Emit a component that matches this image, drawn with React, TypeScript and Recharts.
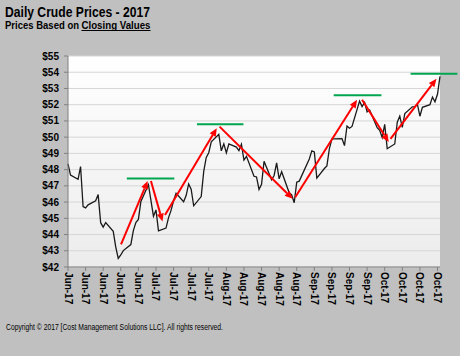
import React from 'react';
import { CartesianGrid, Line, LineChart, ReferenceLine, XAxis, YAxis } from 'recharts';

const FONT = 'Arial, "Liberation Sans", sans-serif';

// trading days (MM-DD, 2017) and closing prices
const tradingDates = [
  '06-01', '06-02', '06-05', '06-06', '06-07', '06-08', '06-09', '06-12', '06-13', '06-14', '06-15',
  '06-16', '06-19', '06-20', '06-21', '06-22', '06-23', '06-26', '06-27', '06-28', '06-29', '06-30',
  '07-03', '07-05', '07-06', '07-07', '07-10', '07-11', '07-12', '07-13', '07-14', '07-17', '07-18',
  '07-19', '07-20', '07-21', '07-24', '07-25', '07-26', '07-27', '07-28', '07-31',
  '08-01', '08-02', '08-03', '08-04', '08-07', '08-08', '08-09', '08-10', '08-11', '08-14', '08-15',
  '08-16', '08-17', '08-18', '08-21', '08-22', '08-23', '08-24', '08-25', '08-28', '08-29', '08-30', '08-31',
  '09-01', '09-05', '09-06', '09-07', '09-08', '09-11', '09-12', '09-13', '09-14', '09-15', '09-18',
  '09-19', '09-20', '09-21', '09-22', '09-25', '09-26', '09-27', '09-28', '09-29',
  '10-02', '10-03', '10-04', '10-05', '10-06', '10-09', '10-10', '10-11', '10-12', '10-13', '10-16',
  '10-17', '10-18', '10-19', '10-20', '10-23', '10-24', '10-25', '10-26', '10-27',
];

const closingPrices = [
  48.36, 47.66, 47.4, 48.19, 45.72, 45.64, 45.83, 46.08, 46.46, 44.73, 44.46,
  44.74, 44.2, 43.23, 42.53, 42.74, 43.01, 43.38, 44.24, 44.74, 44.93, 46.04,
  47.07, 45.13, 45.52, 44.23, 44.4, 45.04, 45.49, 46.08, 46.54, 46.02, 46.4,
  47.12, 46.79, 45.77, 46.34, 47.89, 48.75, 49.04, 49.71, 50.17,
  49.16, 49.59, 49.03, 49.58, 49.39, 49.17, 49.56, 48.59, 48.82, 47.59, 47.55,
  46.78, 47.09, 48.51, 47.37, 47.64, 48.41, 47.43, 47.87, 46.57, 46.44, 45.96, 47.23,
  47.29, 48.66, 49.16, 49.09, 47.48, 48.07, 48.23, 49.3, 49.89, 49.89, 49.91,
  49.48, 50.69, 50.55, 50.66, 52.22, 51.88, 52.14, 51.56, 51.67,
  50.58, 50.42, 49.98, 50.79, 49.29, 49.58, 50.92, 51.3, 50.6, 51.45, 51.87,
  51.88, 52.04, 51.29, 51.84, 52.0, 52.47, 52.18, 52.64, 53.75,
];

// weekly axis labels
const tickDates = [
  '06-01', '06-08', '06-15', '06-22', '06-29', '07-06', '07-13', '07-20', '07-27', '08-03', '08-10',
  '08-17', '08-24', '08-31', '09-07', '09-14', '09-21', '09-28', '10-05', '10-12', '10-19', '10-26',
];
const monthLabels = ['Jan-17', 'Feb-17', 'Mar-17', 'Apr-17', 'May-17', 'Jun-17', 'Jul-17', 'Aug-17', 'Sep-17', 'Oct-17', 'Nov-17', 'Dec-17'];
const priceTicks = [42, 43, 44, 45, 46, 47, 48, 49, 50, 51, 52, 53, 54, 55];

// trend arrows: [startDay, startPrice, endDay, endPrice] (day 0 = Jun 1)
const trendArrows = [
  [21.1, 43.4, 31.7, 47.3],
  [33, 47.3, 37.6, 44.8],
  [38.6, 45.2, 59.2, 50.55],
  [60.3, 50.65, 89.4, 46.2],
  [90.4, 46.3, 115, 52.3],
  [117, 52.3, 127.6, 49.7],
  [128.3, 49.9, 146.6, 53.6],
];

// resistance levels: [fromDay, toDay, price]
const resistanceLevels = [
  [23.4, 42.3, 47.45],
  [51.3, 69.8, 50.8],
  [105.7, 124.7, 52.58],
  [136.3, 154.9, 53.9],
];

const dayOf = (md: string) => {
  const [m, d] = md.split('-').map(Number);
  return Math.round((Date.UTC(2017, m - 1, d) - Date.UTC(2017, 5, 1)) / 86400000);
};

const labelOf = (day: number) => monthLabels[new Date(Date.UTC(2017, 5, 1) + day * 86400000).getUTCMonth()];

const data = tradingDates.map((d, i) => ({ day: dayOf(d), price: closingPrices[i] }));
const xTicks = tickDates.map(dayOf);

const XTick = ({ x, y, payload }: any) => (
  <text
    x={0}
    y={0}
    transform={`translate(${x},${y - 1}) rotate(90)`}
    fontSize={10}
    fontWeight="bold"
    fontFamily={FONT}
    fill="#000"
    dominantBaseline="central"
    textAnchor="start"
  >
    {labelOf(payload.value)}
  </text>
);

const Arrow = (props: any) => {
  const { x1, y1, x2, y2 } = props;
  const a = Math.atan2(y2 - y1, x2 - x1);
  const len = 8;
  const w = 3.5;
  const bx = x2 - len * Math.cos(a);
  const by = y2 - len * Math.sin(a);
  const pts = [
    `${x2},${y2}`,
    `${bx + w * Math.sin(a)},${by - w * Math.cos(a)}`,
    `${bx - w * Math.sin(a)},${by + w * Math.cos(a)}`,
  ].join(' ');
  return (
    <g>
      <line x1={x1} y1={y1} x2={bx} y2={by} stroke="#ff0000" strokeWidth={2} />
      <polygon points={pts} fill="#ff0000" />
    </g>
  );
};

export default function App() {
  return (
    <div style={{ position: 'absolute', left: 0, top: 0, width: 460, height: 356, background: '#c0c0c0', fontFamily: FONT }}>
      <svg width={460} height={356} style={{ position: 'absolute', left: 0, top: 0, pointerEvents: 'none' }}>
        <text x={5} y={17} fontSize={14.5} fontWeight="bold" fill="#000" textLength={145} lengthAdjust="spacingAndGlyphs">
          Daily Crude Prices - 2017
        </text>
        <text x={5} y={29} fontSize={10.5} fontWeight="bold" fill="#000" textLength={74} lengthAdjust="spacingAndGlyphs">
          Prices Based on
        </text>
        <text x={81.5} y={29} fontSize={10.5} fontWeight="bold" fill="#000" textLength={69} lengthAdjust="spacingAndGlyphs">
          Closing Values
        </text>
        <line x1={81.5} y1={30.5} x2={150.5} y2={30.5} stroke="#000" strokeWidth={1} />
        <text x={6} y={330} fontSize={8.5} fill="#000" textLength={217} lengthAdjust="spacingAndGlyphs">
          Copyright © 2017 [Cost Management  Solutions LLC].  All rights reserved.
        </text>
      </svg>
      <div style={{ position: 'absolute', left: 0, top: 0 }}>
        <LineChart width={460} height={356} data={data} margin={{ top: 56, right: 20, bottom: 49, left: 0 }}>
          <defs>
            <linearGradient id="plotBg" x1="0" y1="0" x2="0" y2="1">
              <stop offset="0%" stopColor="#ffffff" />
              <stop offset="100%" stopColor="#ececec" />
            </linearGradient>
          </defs>
          <CartesianGrid vertical={false} stroke="#d6d6d6" fill="url(#plotBg)" fillOpacity={1} />
          <XAxis
            dataKey="day"
            type="number"
            domain={[0, 148]}
            ticks={xTicks}
            interval={0}
            height={40}
            tick={<XTick />}
            tickSize={4}
            tickMargin={2}
            stroke="#808080"
          />
          <YAxis
            type="number"
            domain={[42, 55]}
            ticks={priceTicks}
            interval={0}
            width={68}
            tickSize={4}
            tickMargin={5}
            stroke="#808080"
            tickFormatter={(v: number) => `$${v}`}
            tick={{ fill: '#000', fontSize: 10, fontWeight: 'bold', fontFamily: FONT }}
          />
          <Line type="linear" dataKey="price" stroke="#1a1a1a" strokeWidth={1.3} dot={false} isAnimationActive={false} />
          {resistanceLevels.map(([a, b, p], i) => (
            <ReferenceLine
              key={`g${i}`}
              segment={[{ x: a, y: p }, { x: b, y: p }]}
              stroke="#00a550"
              strokeWidth={2}
              ifOverflow="visible"
            />
          ))}
          {trendArrows.map(([a, p, b, q], i) => (
            <ReferenceLine
              key={`r${i}`}
              segment={[{ x: a, y: p }, { x: b, y: q }]}
              ifOverflow="visible"
              shape={(props: any) => <Arrow {...props} />}
            />
          ))}
        </LineChart>
      </div>
    </div>
  );
}
